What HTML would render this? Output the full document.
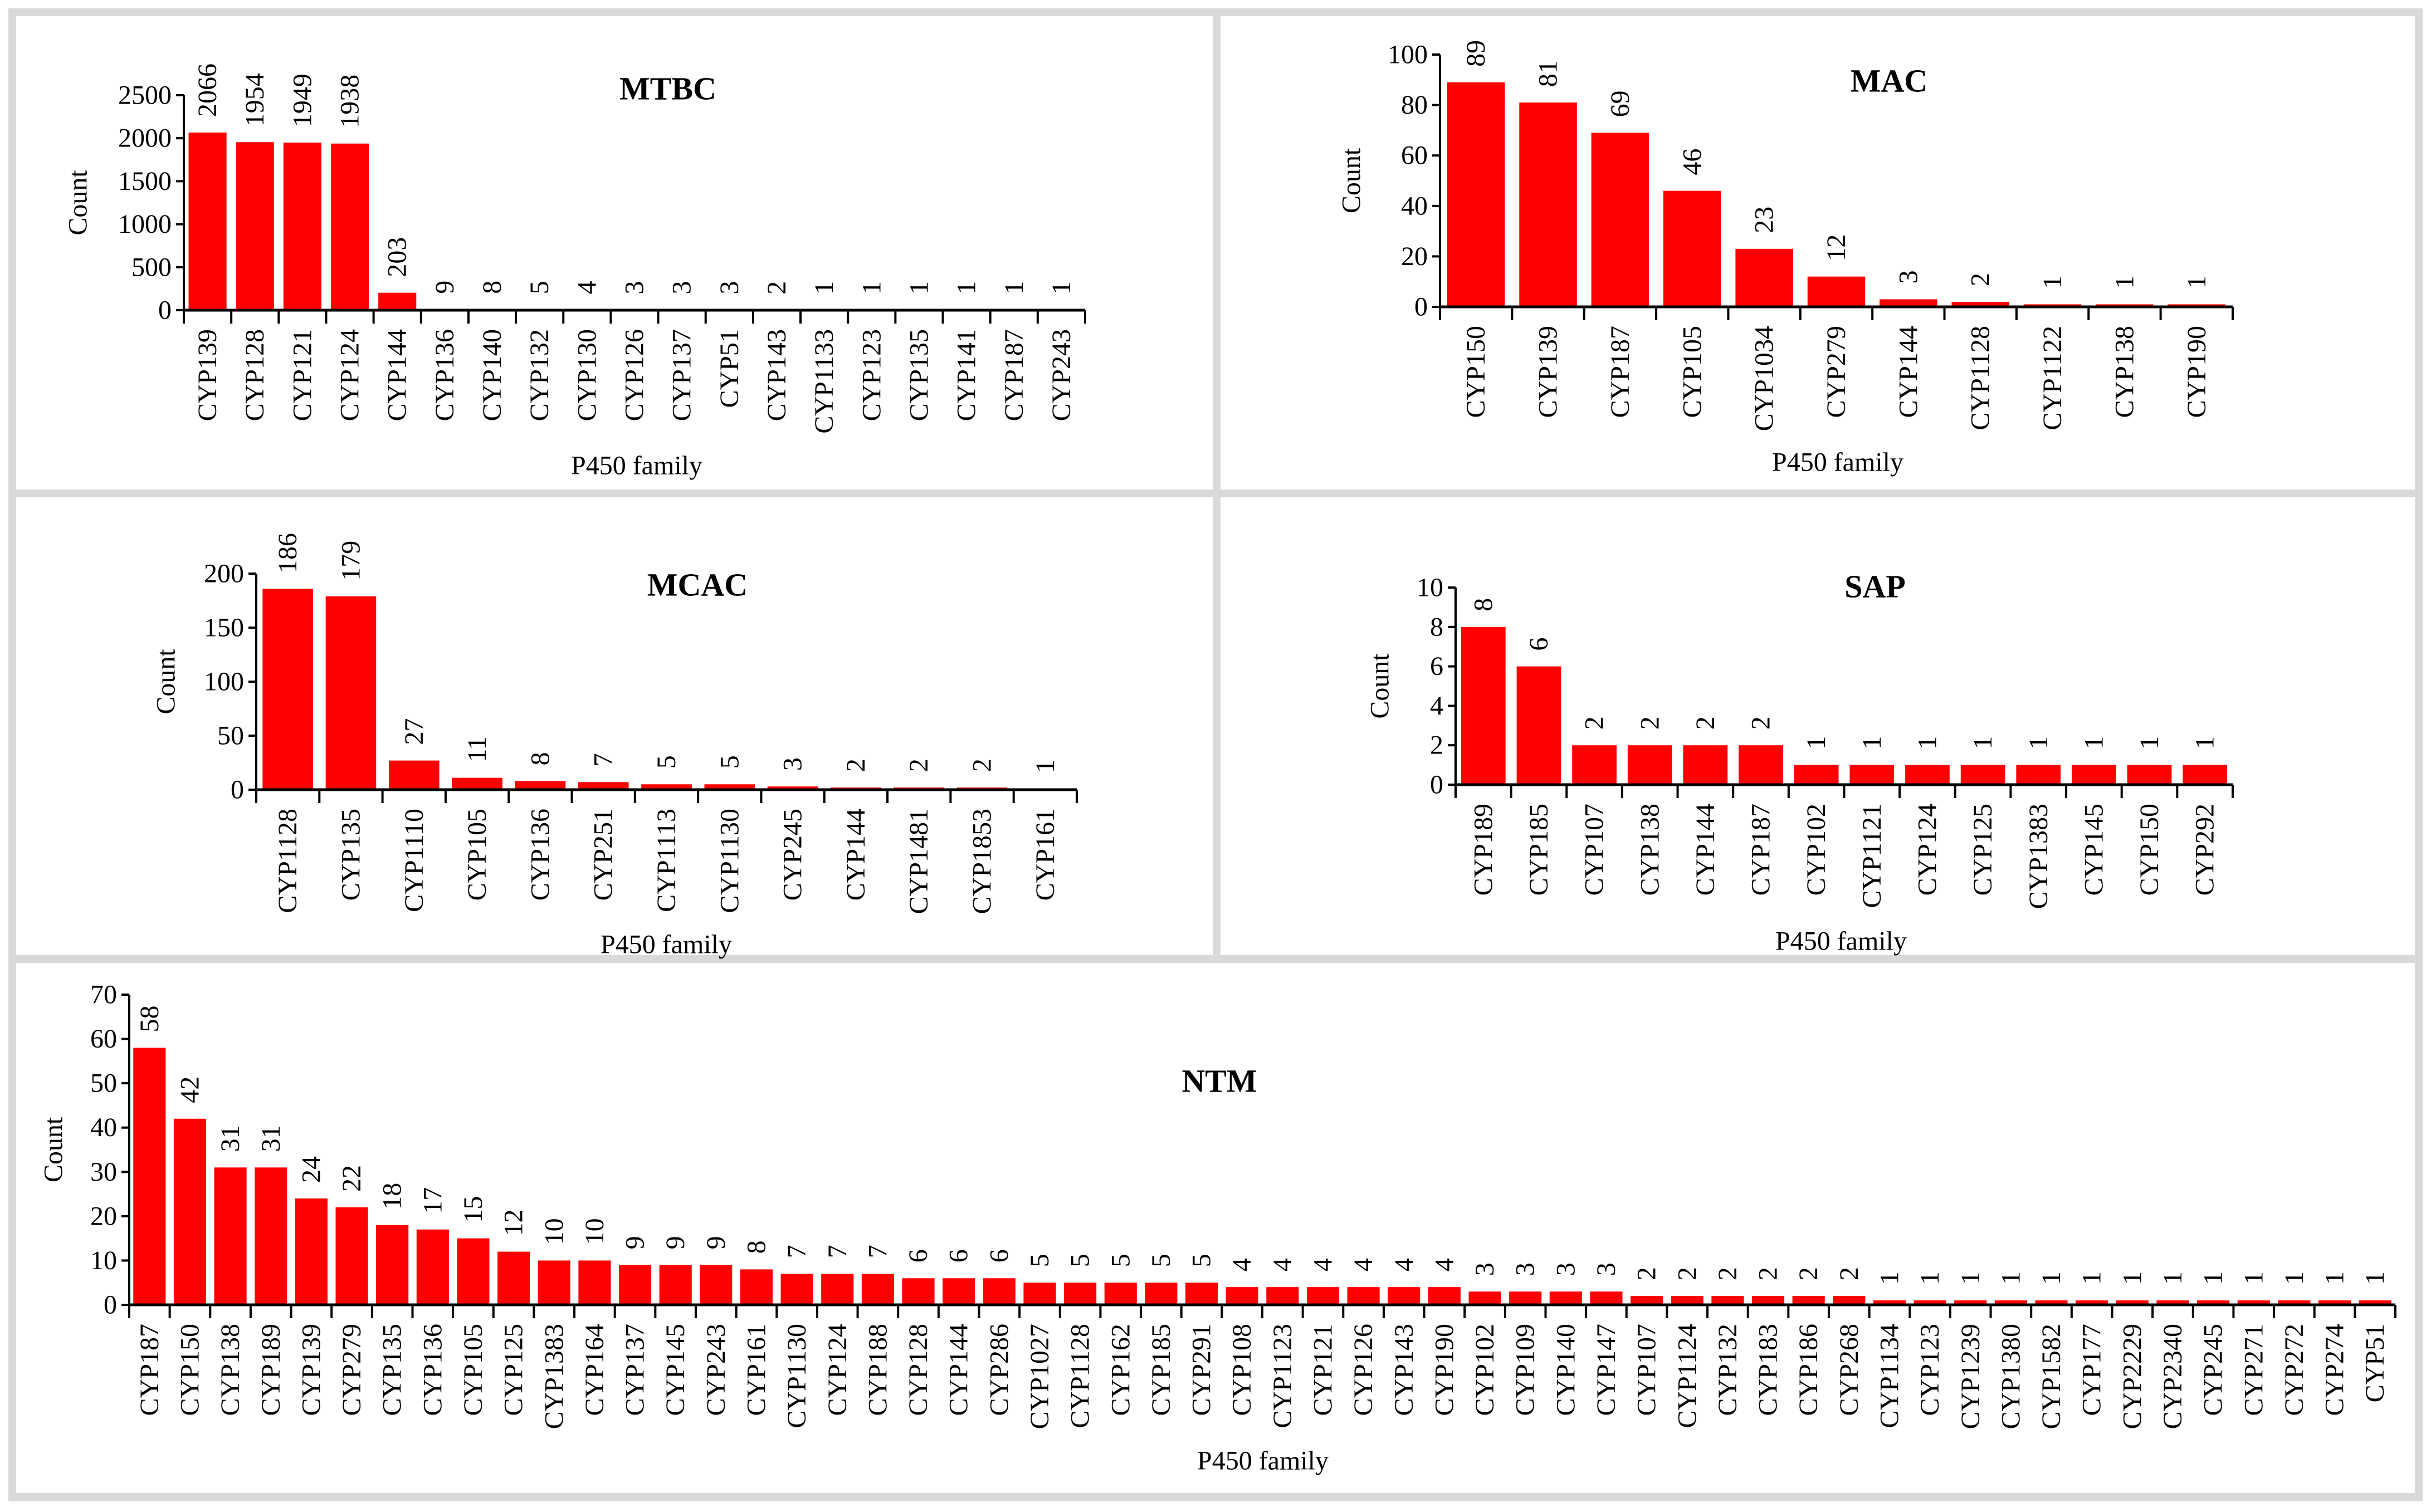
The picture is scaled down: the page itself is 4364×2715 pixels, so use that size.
<!DOCTYPE html>
<html><head><meta charset="utf-8"><style>
html,body{margin:0;padding:0;background:#fff;}
svg{display:block;}
text{font-family:"Liberation Serif",serif;fill:#000;}
</style></head><body>
<svg id="fig" width="4364" height="2715" viewBox="0 0 4364 2715" xmlns="http://www.w3.org/2000/svg">
<rect x="0" y="0" width="4364" height="2715" fill="#fff"/>
<g stroke="#d9d9d9" stroke-width="14" fill="none">
<rect x="22" y="22" width="4320" height="2666"/>
<line x1="2184" y1="22" x2="2184" y2="1722"/>
<line x1="22" y1="886" x2="4342" y2="886"/>
<line x1="22" y1="1722" x2="4342" y2="1722"/>
</g>
</svg>
<script>
const mtbcCats=["CYP139","CYP128","CYP121","CYP124","CYP144","CYP136","CYP140","CYP132","CYP130","CYP126","CYP137","CYP51","CYP143","CYP1133","CYP123","CYP135","CYP141","CYP187","CYP243"];
const mtbcVals=[2066,1954,1949,1938,203,9,8,5,4,3,3,3,2,1,1,1,1,1,1];
const mtbcTicks=[0,500,1000,1500,2000,2500];
const macCats=["CYP150","CYP139","CYP187","CYP105","CYP1034","CYP279","CYP144","CYP1128","CYP1122","CYP138","CYP190"];
const macVals=[89,81,69,46,23,12,3,2,1,1,1];
const macTicks=[0,20,40,60,80,100];
const mcacCats=["CYP1128","CYP135","CYP1110","CYP105","CYP136","CYP251","CYP1113","CYP1130","CYP245","CYP144","CYP1481","CYP1853","CYP161"];
const mcacVals=[186,179,27,11,8,7,5,5,3,2,2,2,1];
const mcacTicks=[0,50,100,150,200];
const sapCats=["CYP189","CYP185","CYP107","CYP138","CYP144","CYP187","CYP102","CYP1121","CYP124","CYP125","CYP1383","CYP145","CYP150","CYP292"];
const sapVals=[8,6,2,2,2,2,1,1,1,1,1,1,1,1];
const sapTicks=[0,2,4,6,8,10];
const ntmCats=["CYP187","CYP150","CYP138","CYP189","CYP139","CYP279","CYP135","CYP136","CYP105","CYP125","CYP1383","CYP164","CYP137","CYP145","CYP243","CYP161","CYP1130","CYP124","CYP188","CYP128","CYP144","CYP286","CYP1027","CYP1128","CYP162","CYP185","CYP291","CYP108","CYP1123","CYP121","CYP126","CYP143","CYP190","CYP102","CYP109","CYP140","CYP147","CYP107","CYP1124","CYP132","CYP183","CYP186","CYP268","CYP1134","CYP123","CYP1239","CYP1380","CYP1582","CYP177","CYP2229","CYP2340","CYP245","CYP271","CYP272","CYP274","CYP51"];
const ntmVals=[58,42,31,31,24,22,18,17,15,12,10,10,9,9,9,8,7,7,7,6,6,6,5,5,5,5,5,4,4,4,4,4,4,3,3,3,3,2,2,2,2,2,2,1,1,1,1,1,1,1,1,1,1,1,1,1];
const ntmTicks=[0,10,20,30,40,50,60,70];

const NS="http://www.w3.org/2000/svg";
const svg=document.getElementById('fig');
function mk(tag,attrs,parent,txt){const e=document.createElementNS(NS,tag);for(const k in attrs)e.setAttribute(k,attrs[k]);if(txt!==undefined)e.textContent=txt;parent.appendChild(e);return e;}

function chart(id,title,cats,vals,ticks,L){
  const g=mk('g',{},svg);
  
  
  const max=ticks[ticks.length-1];
  const y=v=>L.y0-(L.y0-L.yTop)*v/max;
  const bw=(L.x1-L.x0)/cats.length;
  const x=i=>L.x0+bw*(i+0.5);
  ticks.forEach(t=>{
    const tl=mk('line',{x1:L.x0-14,x2:L.x0,y1:y(t),y2:y(t),stroke:'#000','stroke-width':4},g);
    
    
    const tx=mk('text',{x:L.x0-22,y:y(t),'text-anchor':'end','dominant-baseline':'central','font-size':48},g,String(t));
    
    
  });
  vals.forEach((v,i)=>{
    const r=mk('rect',{x:x(i)-bw*0.4,y:y(v),width:bw*0.8,height:L.y0-y(v),fill:'#ff0000'},g);
    
    
    const vl=mk('text',{transform:`translate(${x(i)},${y(v)-28}) rotate(-90)`,'text-anchor':'start','dominant-baseline':'central','font-size':48},g,String(v));
    
    
    const cl=mk('text',{transform:`translate(${x(i)},${L.y0+34}) rotate(-90)`,'text-anchor':'end','dominant-baseline':'central','font-size':48},g,cats[i]);
    
    
  });
  for(let i=0;i<=cats.length;i++){
    const xt=mk('line',{x1:L.x0+bw*i,x2:L.x0+bw*i,y1:L.y0,y2:L.y0+24,stroke:'#000','stroke-width':4},g);
    
    
  }
  const ya=mk('line',{x1:L.x0,x2:L.x0,y1:L.yTop,y2:L.y0,stroke:'#000','stroke-width':4},g);
  
  
  const xa=mk('line',{x1:L.x0,x2:L.x1,y1:L.y0,y2:L.y0,stroke:'#000','stroke-width':5},g);
  
  
  const tt=mk('text',{x:L.tx,y:L.ty,'text-anchor':'middle','dominant-baseline':'central','font-size':58,'font-weight':'bold'},g,title);
  
  
  const yl=mk('text',{transform:`translate(${L.cx},${(L.y0+L.yTop)/2}) rotate(-90)`,'text-anchor':'middle','dominant-baseline':'central','font-size':48},g,'Count');
  
  
  const xl=mk('text',{x:L.px,y:L.py,'text-anchor':'middle','dominant-baseline':'central','font-size':48},g,'P450 family');
  
  
}
chart('mtbc','MTBC',mtbcCats,mtbcVals,mtbcTicks,{x0:330,x1:1948,y0:557,yTop:171,tx:1199,ty:159,cx:140,px:1143,py:836});
chart('mac','MAC',macCats,macVals,macTicks,{x0:2585,x1:4008,y0:551,yTop:98,tx:3391,ty:145,cx:2426,px:3299,py:830});
chart('mcac','MCAC',mcacCats,mcacVals,mcacTicks,{x0:460,x1:1933,y0:1418,yTop:1030,tx:1252,ty:1050,cx:298,px:1196,py:1696});
chart('sap','SAP',sapCats,sapVals,sapTicks,{x0:2613,x1:4008,y0:1409,yTop:1055,tx:3366,ty:1053,cx:2477,px:3305,py:1690});
chart('ntm','NTM',ntmCats,ntmVals,ntmTicks,{x0:232,x1:4300,y0:2343,yTop:1786,tx:2189,ty:1941,cx:96,px:2267,py:2623});
</script>
</body></html>
